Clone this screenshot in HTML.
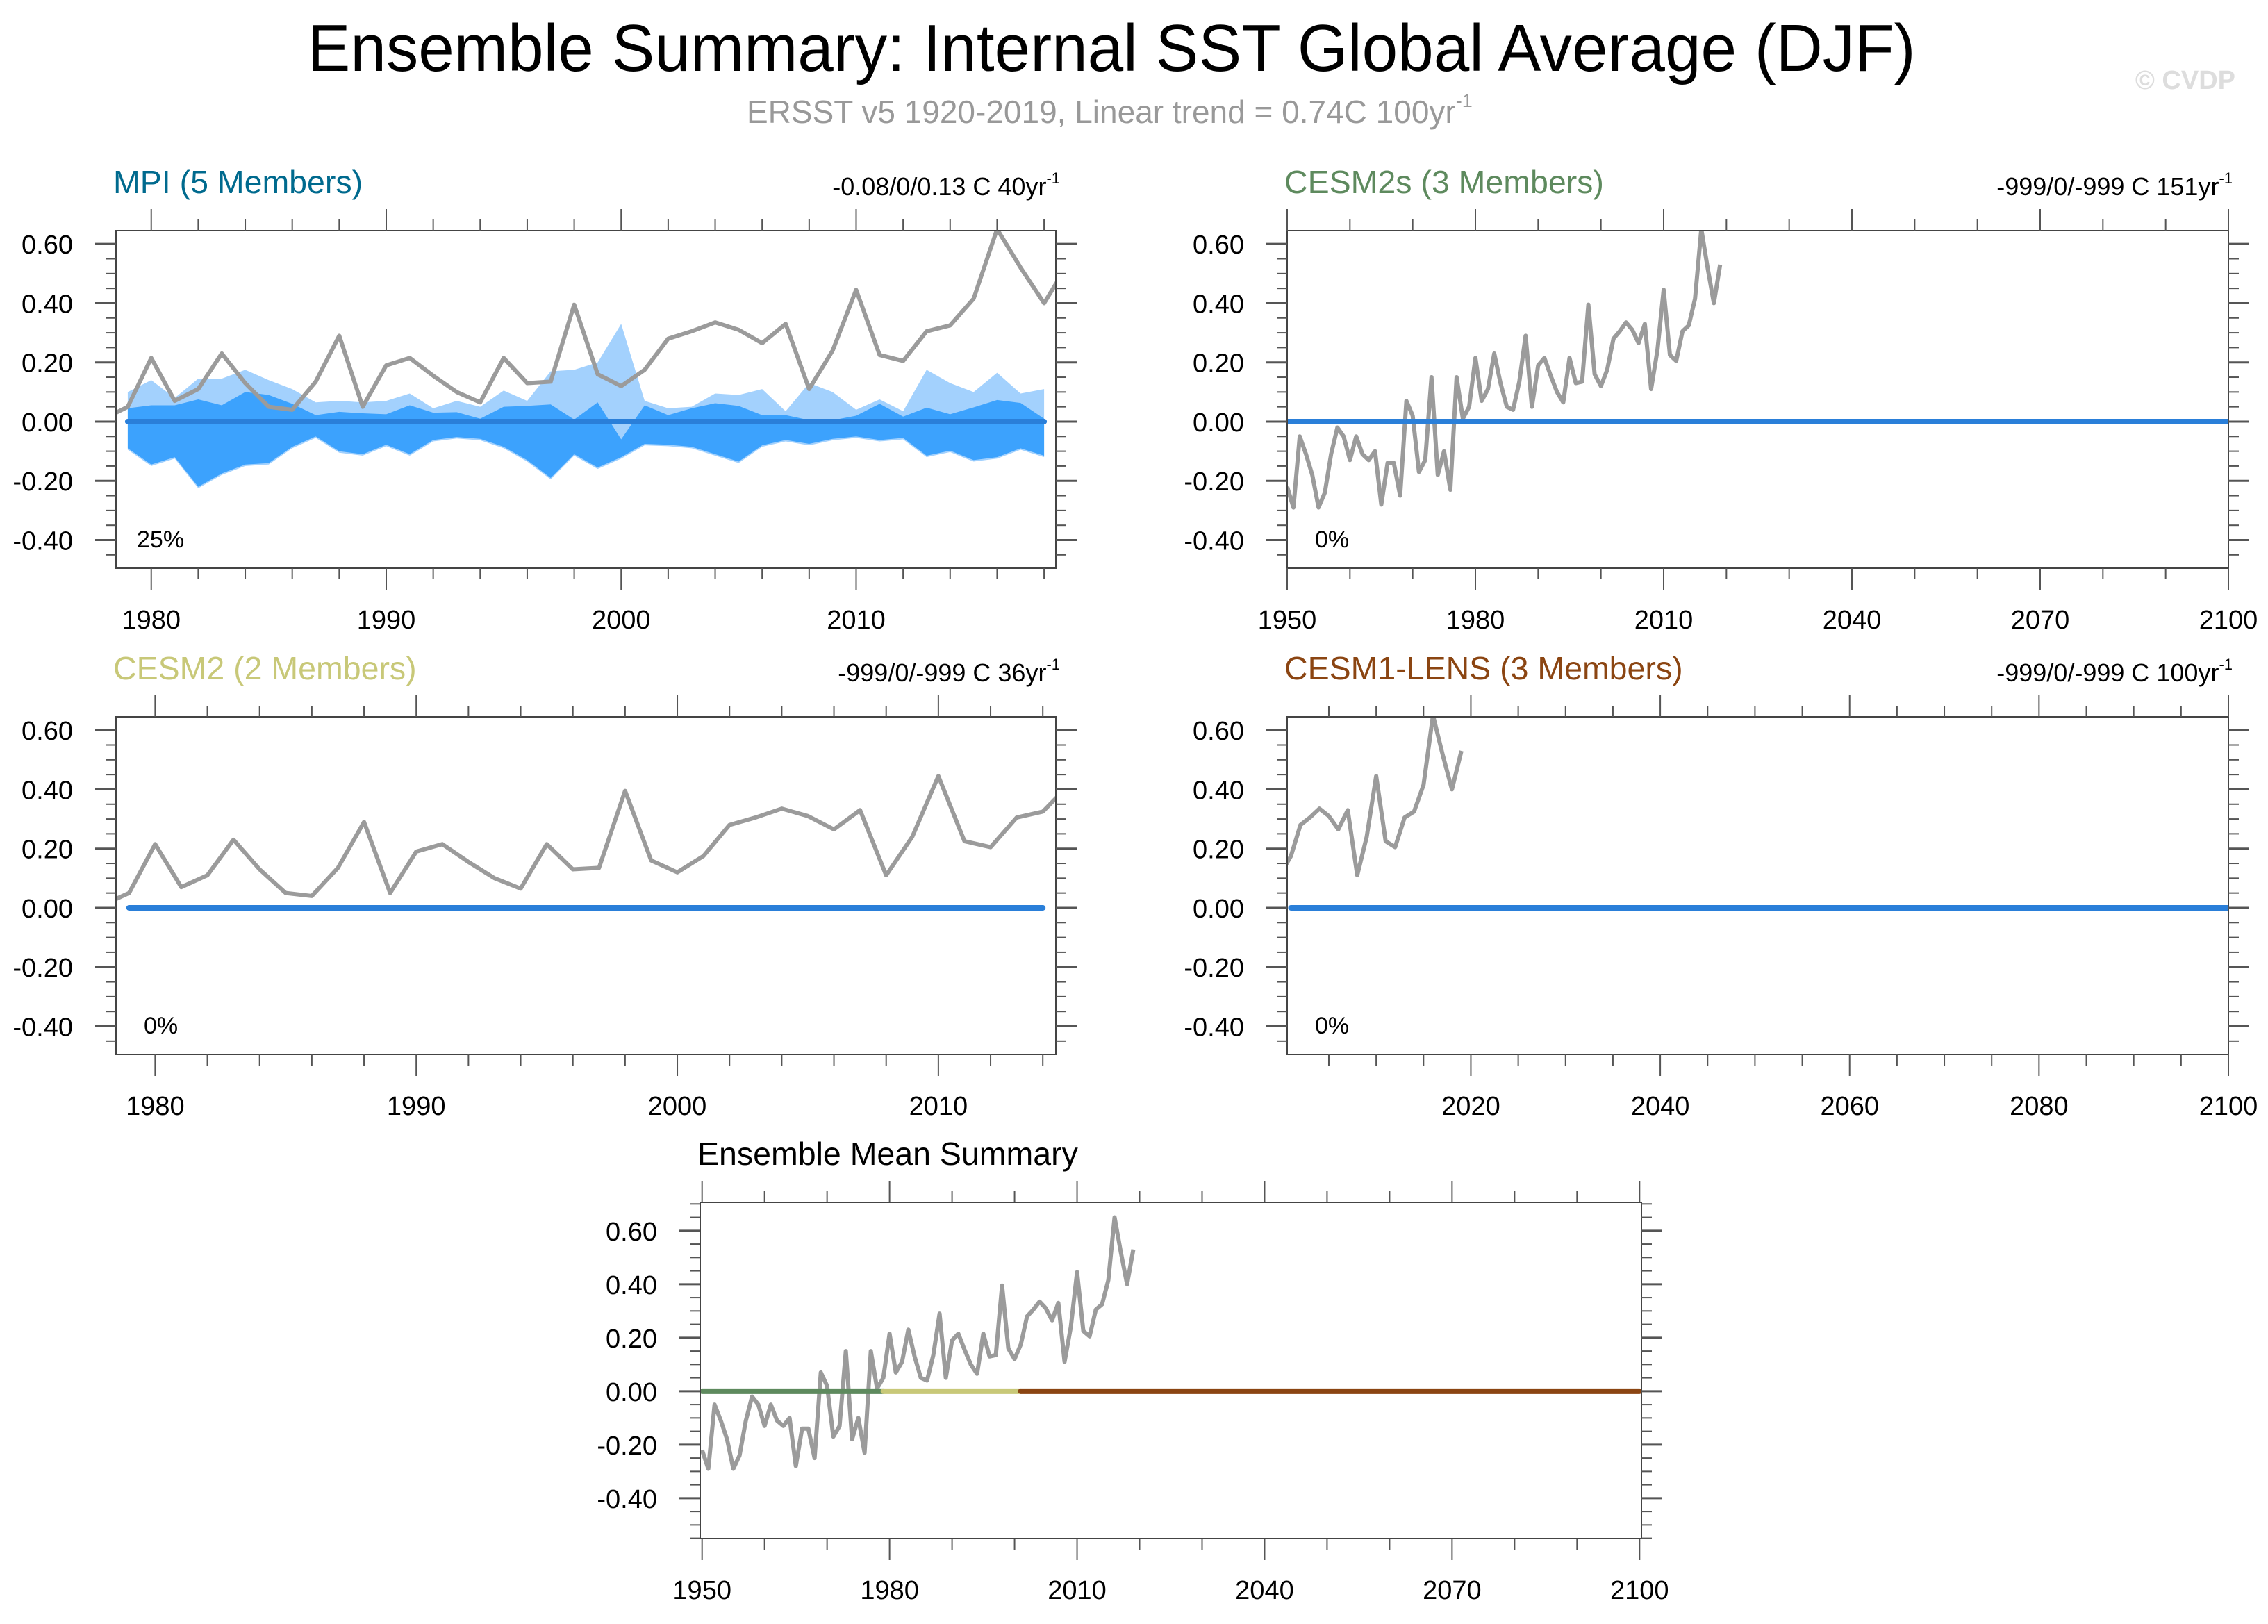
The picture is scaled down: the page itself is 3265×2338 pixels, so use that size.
<!DOCTYPE html>
<html><head><meta charset="utf-8"><style>
html,body{margin:0;padding:0;background:#fff;}
svg{display:block;font-family:"Liberation Sans",Arial,sans-serif;}
</style></head><body>
<svg id="chart" xmlns="http://www.w3.org/2000/svg" width="3265" height="2338" viewBox="0 0 3265 2338">
<rect width="3265" height="2338" fill="#fff"/>
<text x="1600" y="102" font-size="96" text-anchor="middle" fill="#000" textLength="2315" lengthAdjust="spacingAndGlyphs">Ensemble Summary: Internal SST Global Average (DJF)</text>
<text x="1075" y="177" font-size="46" fill="#999">ERSST v5 1920-2019, Linear trend = 0.74C 100yr<tspan font-size="27" dy="-23">-1</tspan></text>
<text x="3218" y="128" font-size="38" font-weight="bold" text-anchor="end" fill="#ddd">© CVDP</text>
</svg>
<script>
const obsStartYear = 1950;
const obsValues = [-0.22,-0.29,-0.05,-0.11,-0.18,-0.29,-0.24,-0.11,-0.02,-0.05,
 -0.13,-0.05,-0.11,-0.13,-0.10,-0.28,-0.14,-0.14,-0.25,0.07,
 0.02,-0.17,-0.13,0.15,-0.18,-0.10,-0.23,0.15,0.01,0.05,
 0.215,0.07,0.11,0.23,0.13,0.05,0.04,0.135,0.29,0.05,
 0.19,0.215,0.155,0.10,0.065,0.215,0.13,0.135,0.395,0.16,
 0.12,0.175,0.28,0.305,0.335,0.31,0.265,0.33,0.11,0.24,
 0.445,0.225,0.205,0.305,0.325,0.415,0.65,0.52,0.40,0.53];
const mpiStartYear = 1979;
const mpiMaxValues = [0.10,0.14,0.08,0.145,0.145,0.175,0.14,0.11,0.065,0.07,0.065,0.07,0.095,0.045,0.07,0.05,0.105,0.07,0.17,0.175,0.20,0.33,0.07,0.045,0.05,0.095,0.09,0.11,0.035,0.13,0.10,0.04,0.075,0.035,0.175,0.13,0.10,0.165,0.095,0.11];
const mpiMinValues = [-0.095,-0.15,-0.125,-0.225,-0.18,-0.15,-0.145,-0.09,-0.055,-0.105,-0.115,-0.083,-0.115,-0.067,-0.057,-0.063,-0.09,-0.135,-0.195,-0.115,-0.16,-0.125,-0.08,-0.083,-0.09,-0.115,-0.14,-0.085,-0.067,-0.08,-0.063,-0.055,-0.067,-0.06,-0.12,-0.103,-0.135,-0.125,-0.095,-0.12];
const mpiUpperValues = [0.045,0.055,0.055,0.075,0.055,0.10,0.09,0.06,0.022,0.033,0.028,0.025,0.055,0.03,0.032,0.01,0.05,0.053,0.058,0.007,0.065,-0.06,0.055,0.022,0.045,0.062,0.053,0.022,0.022,0.005,0.005,0.02,0.06,0.017,0.047,0.025,0.048,0.073,0.063,0.01];
const mpiLowerValues = [-0.09,-0.145,-0.12,-0.22,-0.175,-0.145,-0.14,-0.085,-0.05,-0.10,-0.11,-0.078,-0.11,-0.062,-0.052,-0.058,-0.085,-0.13,-0.19,-0.11,-0.155,-0.12,-0.075,-0.078,-0.085,-0.11,-0.135,-0.08,-0.062,-0.075,-0.058,-0.05,-0.062,-0.055,-0.115,-0.098,-0.13,-0.12,-0.09,-0.115];
const meanValue = 0;
const yTickValues = [-0.4,-0.2,0,0.2,0.4,0.6];
const mpiXTicks = [1980,1990,2000,2010];
const cesm2sXTicks = [1950,1980,2010,2040,2070,2100];
const cesm2XTicks = [1980,1990,2000,2010];
const lensXTicks = [2020,2040,2060,2080,2100];
const meanXTicks = [1950,1980,2010,2040,2070,2100];
const percentLabels = ["25%","0%","0%","0%"];
const trendLabels = ["-0.08/0/0.13 C 40yr","-999/0/-999 C 151yr","-999/0/-999 C 36yr","-999/0/-999 C 100yr"];

const NS = "http://www.w3.org/2000/svg";
const svg = document.getElementById('chart');
function mk(tag, attrs, parent){
  const e = document.createElementNS(NS, tag);
  for (const k in attrs) e.setAttribute(k, attrs[k]);
  (parent||svg).appendChild(e);
  return e;
}
const panels = [
 {id:'mpi', L:167,R:1520,T:332,B:818, xmin:1978.5,xmax:2018.5, ymin:-0.495,ymax:0.645, ticks:mpiXTicks, minor:2,
  title:'MPI (5 Members)', color:'#006a8e', trend:trendLabels[0], pct:percentLabels[0], pctX:30,
  segs:[[1979,2018,'#2a7fd9']], band:true},
 {id:'cesm2s', L:1853,R:3208,T:332,B:818, xmin:1950,xmax:2100, ymin:-0.495,ymax:0.645, ticks:cesm2sXTicks, minor:10,
  title:'CESM2s (3 Members)', color:'#5e8a5e', trend:trendLabels[1], pct:percentLabels[1], pctX:40,
  segs:[[1950,2100,'#2a7fd9']]},
 {id:'cesm2', L:167,R:1520,T:1032,B:1518, xmin:1978.5,xmax:2014.5, ymin:-0.495,ymax:0.645, ticks:cesm2XTicks, minor:2,
  title:'CESM2 (2 Members)', color:'#c8c878', trend:trendLabels[2], pct:percentLabels[2], pctX:40,
  segs:[[1979,2014,'#2a7fd9']]},
 {id:'cesm1-lens', L:1853,R:3208,T:1032,B:1518, xmin:2000.6,xmax:2100, ymin:-0.495,ymax:0.645, ticks:lensXTicks, minor:5,
  title:'CESM1-LENS (3 Members)', color:'#8b4512', trend:trendLabels[3], pct:percentLabels[3], pctX:40,
  segs:[[2001,2100,'#2a7fd9']]},
 {id:'ensemble-mean', L:1008,R:2363,T:1731,B:2215, xmin:1949.7,xmax:2100.3, ymin:-0.551,ymax:0.706, ticks:meanXTicks, minor:10,
  title:'Ensemble Mean Summary', color:'#000',
  segs:[[1950,1979,'#5e8a5e'],[1979,2001,'#c8c878'],[2001,2100,'#8b4512']]}
];

panels.forEach(p=>{
  const g = mk('g',{});
  
  
  const sx = v => p.L + (v-p.xmin)/(p.xmax-p.xmin)*(p.R-p.L);
  const sy = v => p.B - (v-p.ymin)/(p.ymax-p.ymin)*(p.B-p.T);
  const cp = mk('clipPath',{id:'clip-'+p.id}, g);
  mk('rect',{x:p.L,y:p.T,width:p.R-p.L,height:p.B-p.T}, cp);
  const plot = mk('g',{'clip-path':'url(#clip-'+p.id+')'}, g);
  
  
  if (p.band){
    let up = mpiMaxValues.map((v,i)=>sx(mpiStartYear+i)+','+sy(v));
    let lo = mpiMinValues.map((v,i)=>sx(mpiStartYear+i)+','+sy(v)).reverse();
    const lb = mk('polygon',{points:up.concat(lo).join(' '),fill:'#a3d1fd'}, plot);
    
    
    up = mpiUpperValues.map((v,i)=>sx(mpiStartYear+i)+','+sy(v));
    lo = mpiLowerValues.map((v,i)=>sx(mpiStartYear+i)+','+sy(v)).reverse();
    const db = mk('polygon',{points:up.concat(lo).join(' '),fill:'#3ca2fd'}, plot);
    
    
  }
  const obsPts = obsValues.map((v,i)=>sx(obsStartYear+i)+','+sy(v)).join(' ');
  const ol = mk('polyline',{points:obsPts,fill:'none',stroke:'#9b9b9b','stroke-width':6,'stroke-linejoin':'round'}, plot);
  
  
  p.segs.forEach(s=>{
    const ln = mk('line',{x1:sx(s[0]),y1:sy(meanValue),x2:sx(s[1]),y2:sy(meanValue),stroke:s[2],'stroke-width':8,'stroke-linecap':'round'}, plot);
    
    
  });
  const fr = mk('rect',{x:p.L,y:p.T,width:p.R-p.L,height:p.B-p.T,fill:'none',stroke:'#444','stroke-width':2}, g);
  
  
  for (let k=Math.ceil(p.ymin/0.05); k*0.05<=p.ymax; k++){
    const v = k*0.05, y = sy(v);
    const major = (k%4===0);
    const len = major?30:15;
    mk('line',{x1:p.L-len,y1:y,x2:p.L,y2:y,stroke:'#555','stroke-width':major?3:2}, g);
    mk('line',{x1:p.R,y1:y,x2:p.R+len,y2:y,stroke:'#555','stroke-width':major?3:2}, g);
  }
  yTickValues.forEach(v=>{
    const t = mk('text',{x:p.L-62,y:sy(v)+14,'font-size':38,'text-anchor':'end',fill:'#000'}, g);
    t.textContent = v.toFixed(2);
    
    
  });
  for (let yr=Math.ceil(p.xmin/p.minor)*p.minor; yr<=p.xmax+0.01; yr+=p.minor){
    const x = sx(yr);
    const major = p.ticks.indexOf(yr)>=0;
    const len = major?31:16;
    mk('line',{x1:x,y1:p.T-len,x2:x,y2:p.T,stroke:'#555','stroke-width':2}, g);
    mk('line',{x1:x,y1:p.B,x2:x,y2:p.B+len,stroke:'#555','stroke-width':2}, g);
  }
  p.ticks.forEach(v=>{
    const t = mk('text',{x:sx(v),y:p.B+87,'font-size':38,'text-anchor':'middle',fill:'#000'}, g);
    t.textContent = String(v);
    
    
  });
  const tt = mk('text',{x:p.L-4,y:p.T-54,'font-size':46.5,fill:p.color}, g);
  tt.textContent = p.title;
  
  
  if (p.trend){
    const tr = mk('text',{x:p.R+6,y:p.T-51,'font-size':36,'text-anchor':'end',fill:'#000'}, g);
    tr.textContent = p.trend;
    const sup = mk('tspan',{'font-size':22,dy:-17}, tr);
    sup.textContent = '-1';
    
    
  }
  if (p.pct){
    const pc = mk('text',{x:p.L+p.pctX,y:p.B-30,'font-size':34,fill:'#000'}, g);
    pc.textContent = p.pct;
    
    
  }
});
</script>
</body></html>
